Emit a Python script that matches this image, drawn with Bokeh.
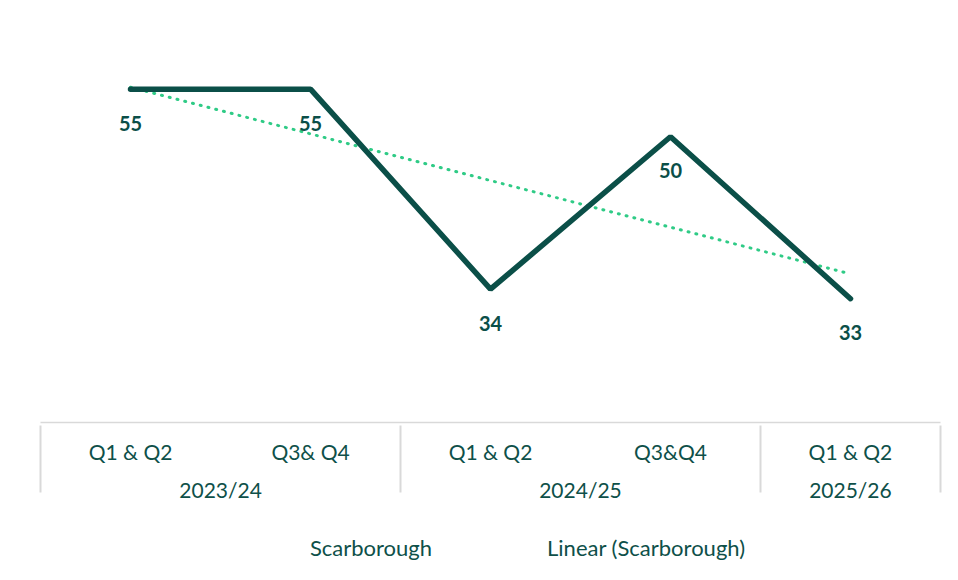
import numpy as np
from bokeh.plotting import figure
from bokeh.layouts import column
from bokeh.models import (ColumnDataSource, FactorRange, Range1d, Legend, LegendItem,
                          CategoricalAxis)
from bokeh.core.properties import value
from bokeh.embed import file_html
from bokeh.resources import INLINE

# ---- data ----
years = ["2023/24", "2023/24", "2024/25", "2024/25", "2025/26"]
halves = ["Q1 & Q2", "Q3& Q4", "Q1 & Q2", "Q3&Q4", "Q1 & Q2"]
scarborough = [55, 55, 34, 50, 33]
series_name = "Scarborough"

factors = list(zip(years, halves))
idx = np.arange(len(scarborough))
slope, intercept = np.polyfit(idx, scarborough, 1)
trend = list(slope * idx + intercept)

src = ColumnDataSource(dict(x=factors, y=scarborough, t=trend,
                            lbl=[str(v) for v in scarborough]))

DARK = "#0B4F48"
TEXT = "#0E5049"
TREND = "#2FCB86"
GRID = "#D9D9D9"
FONT = "Lato"

LINE_STYLE = dict(line_color=DARK, line_width=5.5, line_cap="round")
TREND_STYLE = dict(line_color=TREND, line_width=3, line_dash="1 7", line_cap="round")

xr = FactorRange(*factors, range_padding=0, group_padding=0, factor_padding=0,
                 subgroup_padding=0)
p = figure(x_range=xr, y_range=Range1d(20, 60), frame_width=900, frame_height=381,
           output_backend="svg", toolbar_location=None, x_axis_location=None,
           y_axis_location=None,
           min_border_left=40, min_border_right=18, min_border_top=41,
           min_border_bottom=100)
p.outline_line_color = None
p.grid.visible = False

# table-style category axis: blank groups before/after the real ones put
# group separators on both edges of the table
tbl_factors = [(" ", " ")] + factors + [("  ", " ")]
p.extra_x_ranges = {"tbl": FactorRange(*tbl_factors, range_padding=-0.9995,
                                       range_padding_units="absolute",
                                       group_padding=0, factor_padding=0,
                                       subgroup_padding=0)}
ax = CategoricalAxis(x_range_name="tbl")
ax.axis_line_color = GRID
ax.axis_line_width = 1.5
ax.major_tick_line_color = None
ax.minor_tick_line_color = None
ax.major_label_text_font = FONT
ax.major_label_text_font_size = "21px"
ax.major_label_text_color = TEXT
ax.group_text_font = FONT
ax.group_text_font_size = "21px"
ax.group_text_color = TEXT
ax.group_text_font_style = "normal"
ax.separator_line_color = GRID
ax.separator_line_width = 2
ax.major_label_standoff = 10
p.add_layout(ax, "below")

p.line("x", "t", source=src, **TREND_STYLE)
p.line("x", "y", source=src, **LINE_STYLE)

p.text("x", "y", text="lbl", source=src, y_offset=34, text_align="center",
       text_baseline="middle", text_font=value(FONT), text_font_style="bold",
       text_font_size="20px", text_color=DARK)

# legend strip below the chart
pl = figure(x_range=Range1d(0, 1), y_range=Range1d(0, 1), frame_width=900,
            frame_height=50, output_backend="svg", toolbar_location=None,
            x_axis_location=None, y_axis_location=None,
            min_border_left=40, min_border_right=18, min_border_top=0,
            min_border_bottom=0)
pl.outline_line_color = None
pl.grid.visible = False
leg_src = ColumnDataSource(dict(x=[], y=[]))
l_line = pl.line("x", "y", source=leg_src, **LINE_STYLE)
l_trend = pl.line("x", "y", source=leg_src, **TREND_STYLE)

legend = Legend(items=[LegendItem(label=series_name, renderers=[l_line]),
                       LegendItem(label="Linear (" + series_name + ")", renderers=[l_trend])],
                orientation="horizontal", location="center",
                label_text_font=FONT, label_text_font_size="22px",
                label_text_color=TEXT, glyph_width=68, glyph_height=20,
                label_standoff=7, spacing=40, border_line_color=None,
                background_fill_alpha=0, margin=0)
pl.add_layout(legend)

layout = column(p, pl)
open("out.html", "w").write(file_html(layout, INLINE))
